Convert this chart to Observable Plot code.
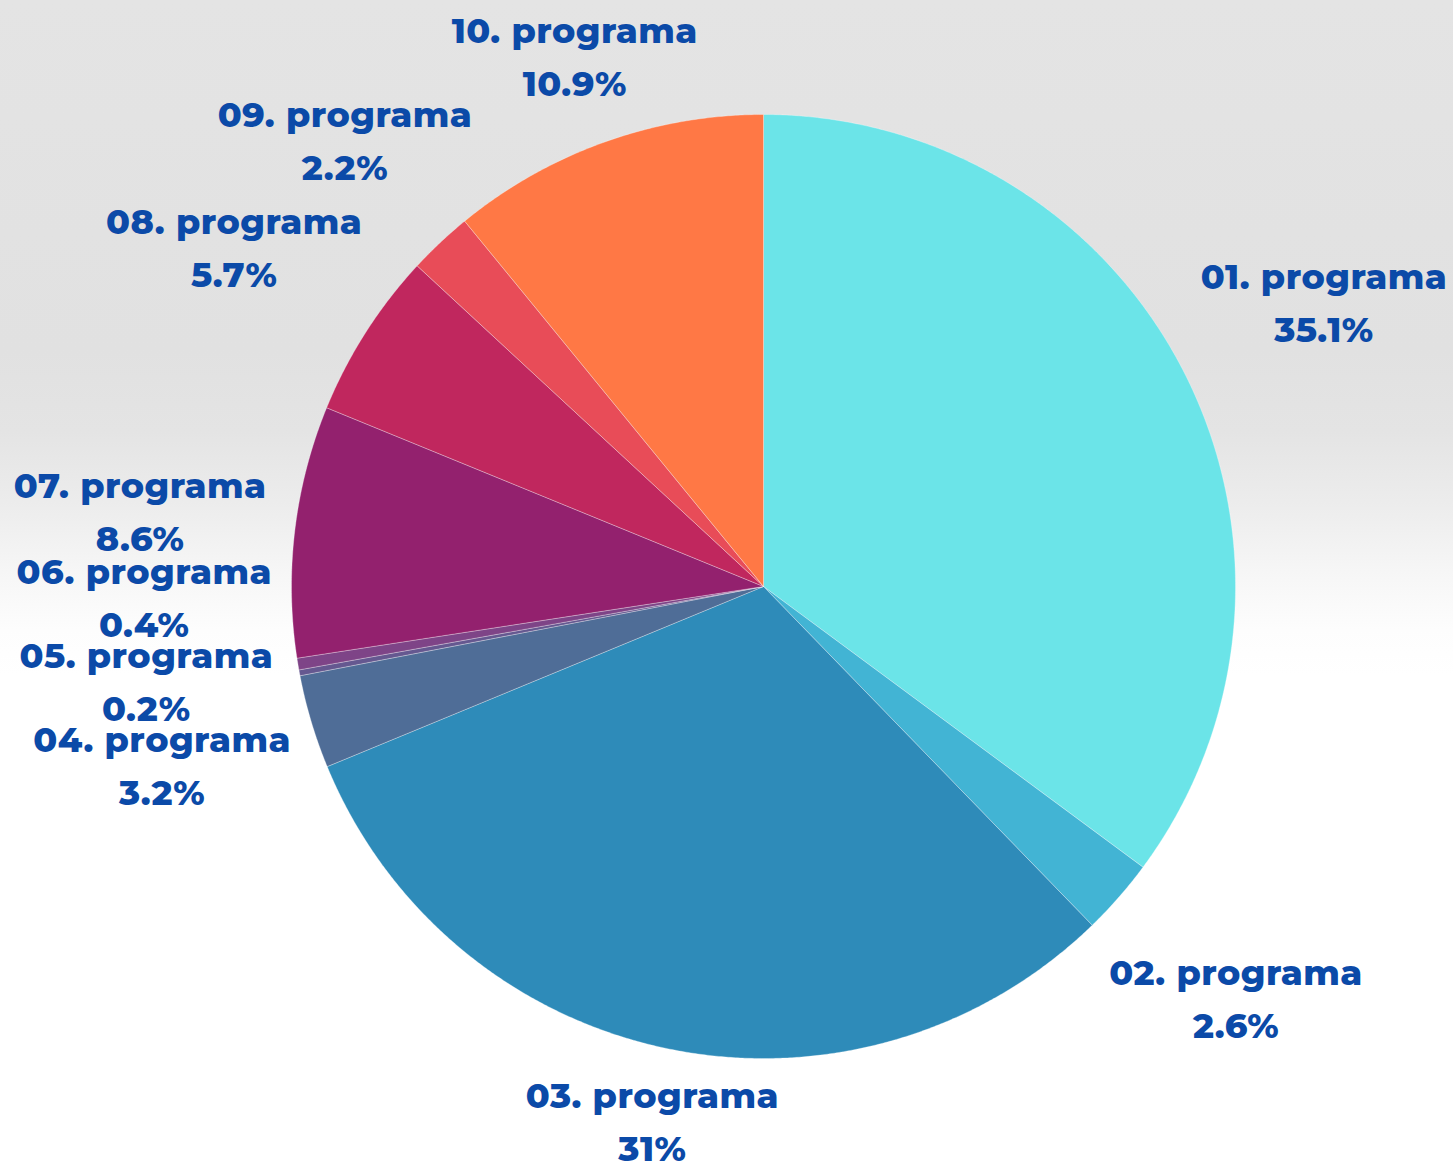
<!DOCTYPE html>
<html><head><meta charset="utf-8">
<script src="https://cdn.jsdelivr.net/npm/d3@7"></script>
<script src="https://cdn.jsdelivr.net/npm/@observablehq/plot@0.6"></script>
<style>
html,body{margin:0;padding:0;background:#fff;}
#chart{width:1453px;height:1166px;background:linear-gradient(to bottom,#e4e4e4 0%,#e1e1e1 30%,#e4e4e4 37%,#ececec 43%,#f6f6f6 49%,#fdfdfd 54%,#ffffff 58%,#ffffff 100%);}
svg{display:block;}
</style>
</head><body><div id="chart"></div>
<script>
const categories = ["01. programa","02. programa","03. programa","04. programa","05. programa","06. programa","07. programa","08. programa","09. programa","10. programa"];
const values = [35.1, 2.6, 31, 3.2, 0.2, 0.4, 8.6, 5.7, 2.2, 10.9];
const colors = ["#6be4e8","#42b4d4","#2e8bb9","#4f6d97","#655890","#7e4487","#93216e","#c0275e","#e84c58","#ff7845"];

const W = 1453, H = 1166, CX = 763, CY = 586, R = 472;
const labelR = 1.33, gapPx = 84, topPx = 57, botPx = 1122;

const pie = d3.pie().sort(null).value(d => d.value)(categories.map((c, i) => ({name: c, value: values[i]})));

// slice polygons in unit-radius coordinates (y up)
const pts = [];
for (const a of pie) {
  const n = Math.max(2, Math.ceil((a.endAngle - a.startAngle) / 0.005));
  pts.push({name: a.data.name, x: 0, y: 0});
  for (let k = 0; k <= n; k++) {
    const t = a.startAngle + (a.endAngle - a.startAngle) * k / n;
    pts.push({name: a.data.name, x: Math.sin(t), y: Math.cos(t)});
  }
  pts.push({name: a.data.name, x: 0, y: 0});
}

// label layout (work in pixel y, then convert)
const labels = pie.map(a => {
  const m = (a.startAngle + a.endAngle) / 2;
  let r = labelR;
  let py = CY - r * Math.cos(m) * R;
  if (py < topPx) { r = (CY - topPx) / R / Math.cos(m); }
  if (py > botPx) { r = (CY - botPx) / R / Math.cos(m); }
  return {name: a.data.name, pct: a.data.value + "%", m, x: r * Math.sin(m), py: CY - r * Math.cos(m) * R, side: Math.sin(m) >= 0 ? 1 : -1};
});
const left = labels.filter(l => l.side < 0);
const byBottom = [...left].sort((a, b) => b.py - a.py);
for (let i = 1; i < byBottom.length; i++) if (byBottom[i-1].py - byBottom[i].py < gapPx) byBottom[i].py = byBottom[i-1].py - gapPx;
for (const l of left) l.py = Math.max(topPx, l.py);
const byTop = [...left].sort((a, b) => a.py - b.py);
for (let i = 1; i < byTop.length; i++) if (byTop[i].py - byTop[i-1].py < gapPx) byTop[i].py = byTop[i-1].py + gapPx;
for (const l of labels) {
  l.y = (CY - l.py) / R;
  if (Math.abs(Math.cos(l.m)) > 0.5) l.x = l.y * Math.tan(l.m);
}

const xmin = -CX / R, xmax = (W - CX) / R, ymax = CY / R, ymin = -(H - CY) / R;
const font = "Montserrat, 'Open Sans', sans-serif";

const plot = Plot.plot({
  width: W, height: H,
  margin: 0,
  x: {domain: [xmin, xmax], axis: null},
  y: {domain: [ymin, ymax], axis: null},
  color: {domain: categories, range: colors},
  style: {background: "transparent", overflow: "visible"},
  marks: [
    Plot.line(pts, {x: "x", y: "y", z: "name", fill: "name", stroke: "#ffffff", strokeWidth: 0.6, strokeOpacity: 0.5, curve: "linear"}),
    Plot.text(labels, {x: "x", y: "y", text: "name", dy: -26, fill: "#0b4aa8", fontSize: 35, fontWeight: 800, fontFamily: font}),
    Plot.text(labels, {x: "x", y: "y", text: "pct", dy: 27, fill: "#0b4aa8", fontSize: 35, fontWeight: 800, fontFamily: font})
  ]
});
plot.querySelectorAll("text").forEach(t => t.style.letterSpacing = "0.5px");
document.getElementById("chart").appendChild(plot);
</script>
</body></html>
